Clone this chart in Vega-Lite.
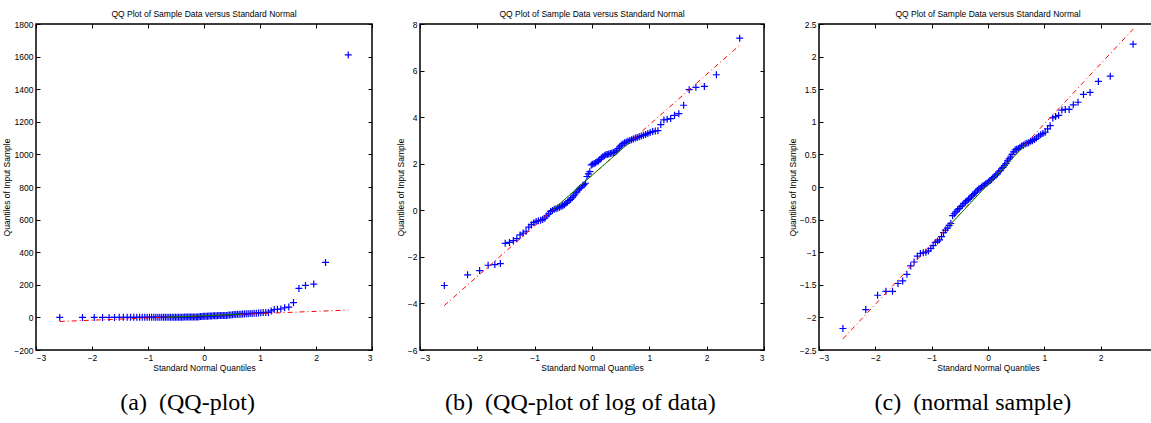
{
  "$schema": "https://vega.github.io/schema/vega-lite/v6.json",
  "padding": {"left": 2, "top": 8, "right": 0, "bottom": 0},
  "background": "white",
  "config": {
    "view": {"stroke": "black", "strokeWidth": 1.5},
    "axis": {"grid": false, "domain": false, "tickColor": "black", "tickSize": -4, "tickWidth": 1, "labelPadding": 7, "labelFont": "Liberation Sans Narrow, Liberation Sans", "labelFontSize": 8.5, "labelColor": "black", "titleFont": "Liberation Sans Narrow, Liberation Sans", "titleFontSize": 8.5, "titleFontWeight": "normal", "titleColor": "black", "titlePadding": 2},
    "title": {"font": "Liberation Sans Narrow, Liberation Sans", "fontSize": 8.5, "fontWeight": "normal", "color": "black"}
  },
  "datasets": {
    "a": [
      {"x":-2.576,"y":0.04},{"x":-2.170,"y":0.063},{"x":-1.960,"y":0.075},{"x":-1.812,"y":0.094},{"x":-1.695,"y":0.097},{"x":-1.598,"y":0.101},{"x":-1.514,"y":0.242},{"x":-1.440,"y":0.252},{"x":-1.372,"y":0.273},{"x":-1.311,"y":0.295},
      {"x":-1.254,"y":0.347},{"x":-1.200,"y":0.375},{"x":-1.150,"y":0.407},{"x":-1.103,"y":0.487},{"x":-1.058,"y":0.538},{"x":-1.015,"y":0.589},{"x":-0.974,"y":0.619},{"x":-0.935,"y":0.638},{"x":-0.896,"y":0.651},{"x":-0.860,"y":0.670},
      {"x":-0.824,"y":0.712},{"x":-0.789,"y":0.787},{"x":-0.755,"y":0.861},{"x":-0.722,"y":0.951},{"x":-0.690,"y":0.99},{"x":-0.659,"y":1.04},{"x":-0.628,"y":1.07},{"x":-0.598,"y":1.11},{"x":-0.568,"y":1.14},{"x":-0.539,"y":1.17},
      {"x":-0.510,"y":1.22},{"x":-0.482,"y":1.27},{"x":-0.454,"y":1.35},{"x":-0.426,"y":1.43},{"x":-0.399,"y":1.52},{"x":-0.372,"y":1.60},{"x":-0.345,"y":1.72},{"x":-0.319,"y":1.86},{"x":-0.292,"y":2.01},{"x":-0.266,"y":2.18},
      {"x":-0.240,"y":2.41},{"x":-0.215,"y":2.56},{"x":-0.189,"y":2.69},{"x":-0.164,"y":2.86},{"x":-0.138,"y":3.00},{"x":-0.113,"y":3.19},{"x":-0.088,"y":4.26},{"x":-0.063,"y":4.76},{"x":-0.038,"y":5.26},{"x":-0.013,"y":7.03},
      {"x":0.013,"y":7.24},{"x":0.038,"y":7.46},{"x":0.063,"y":7.69},{"x":0.088,"y":8.00},{"x":0.113,"y":8.33},{"x":0.138,"y":8.85},{"x":0.164,"y":9.49},{"x":0.189,"y":9.97},{"x":0.215,"y":10.38},{"x":0.240,"y":10.80},
      {"x":0.266,"y":11.02},{"x":0.292,"y":11.25},{"x":0.319,"y":11.47},{"x":0.345,"y":11.70},{"x":0.372,"y":11.94},{"x":0.399,"y":12.18},{"x":0.426,"y":12.81},{"x":0.454,"y":14.15},{"x":0.482,"y":15.18},{"x":0.510,"y":16.44},
      {"x":0.539,"y":17.46},{"x":0.568,"y":18.17},{"x":0.598,"y":18.73},{"x":0.628,"y":19.49},{"x":0.659,"y":20.09},{"x":0.690,"y":20.70},{"x":0.722,"y":21.33},{"x":0.755,"y":22.20},{"x":0.789,"y":22.87},{"x":0.824,"y":23.57},
      {"x":0.860,"y":24.29},{"x":0.896,"y":25.03},{"x":0.935,"y":25.79},{"x":0.974,"y":27.11},{"x":1.015,"y":28.22},{"x":1.058,"y":29.37},{"x":1.103,"y":30.27},{"x":1.150,"y":30.57},{"x":1.200,"y":39.65},{"x":1.254,"y":48.42},
      {"x":1.311,"y":49.90},{"x":1.372,"y":51.42},{"x":1.440,"y":59.15},{"x":1.514,"y":63.43},{"x":1.598,"y":90.92},{"x":1.695,"y":177.7},{"x":1.812,"y":196.4},{"x":1.960,"y":204.4},{"x":2.170,"y":337.0},{"x":2.576,"y":1610}
    ],
    "b": [
      {"x":-2.576,"y":-3.23},{"x":-2.170,"y":-2.77},{"x":-1.960,"y":-2.59},{"x":-1.812,"y":-2.36},{"x":-1.695,"y":-2.33},{"x":-1.598,"y":-2.29},{"x":-1.514,"y":-1.42},{"x":-1.440,"y":-1.38},{"x":-1.372,"y":-1.30},{"x":-1.311,"y":-1.22},
      {"x":-1.254,"y":-1.06},{"x":-1.200,"y":-0.98},{"x":-1.150,"y":-0.90},{"x":-1.103,"y":-0.72},{"x":-1.058,"y":-0.62},{"x":-1.015,"y":-0.53},{"x":-0.974,"y":-0.48},{"x":-0.935,"y":-0.45},{"x":-0.896,"y":-0.43},{"x":-0.860,"y":-0.40},
      {"x":-0.824,"y":-0.34},{"x":-0.789,"y":-0.24},{"x":-0.755,"y":-0.15},{"x":-0.722,"y":-0.05},{"x":-0.690,"y":-0.01},{"x":-0.659,"y":0.04},{"x":-0.628,"y":0.07},{"x":-0.598,"y":0.10},{"x":-0.568,"y":0.13},{"x":-0.539,"y":0.16},
      {"x":-0.510,"y":0.20},{"x":-0.482,"y":0.24},{"x":-0.454,"y":0.30},{"x":-0.426,"y":0.36},{"x":-0.399,"y":0.42},{"x":-0.372,"y":0.47},{"x":-0.345,"y":0.54},{"x":-0.319,"y":0.62},{"x":-0.292,"y":0.70},{"x":-0.266,"y":0.78},
      {"x":-0.240,"y":0.88},{"x":-0.215,"y":0.94},{"x":-0.189,"y":0.99},{"x":-0.164,"y":1.05},{"x":-0.138,"y":1.10},{"x":-0.113,"y":1.16},{"x":-0.088,"y":1.45},{"x":-0.063,"y":1.56},{"x":-0.038,"y":1.66},{"x":-0.013,"y":1.95},
      {"x":0.013,"y":1.98},{"x":0.038,"y":2.01},{"x":0.063,"y":2.04},{"x":0.088,"y":2.08},{"x":0.113,"y":2.12},{"x":0.138,"y":2.18},{"x":0.164,"y":2.25},{"x":0.189,"y":2.30},{"x":0.215,"y":2.34},{"x":0.240,"y":2.38},
      {"x":0.266,"y":2.40},{"x":0.292,"y":2.42},{"x":0.319,"y":2.44},{"x":0.345,"y":2.46},{"x":0.372,"y":2.48},{"x":0.399,"y":2.50},{"x":0.426,"y":2.55},{"x":0.454,"y":2.65},{"x":0.482,"y":2.72},{"x":0.510,"y":2.80},
      {"x":0.539,"y":2.86},{"x":0.568,"y":2.90},{"x":0.598,"y":2.93},{"x":0.628,"y":2.97},{"x":0.659,"y":3.00},{"x":0.690,"y":3.03},{"x":0.722,"y":3.06},{"x":0.755,"y":3.10},{"x":0.789,"y":3.13},{"x":0.824,"y":3.16},
      {"x":0.860,"y":3.19},{"x":0.896,"y":3.22},{"x":0.935,"y":3.25},{"x":0.974,"y":3.30},{"x":1.015,"y":3.34},{"x":1.058,"y":3.38},{"x":1.103,"y":3.41},{"x":1.150,"y":3.42},{"x":1.200,"y":3.68},{"x":1.254,"y":3.88},
      {"x":1.311,"y":3.91},{"x":1.372,"y":3.94},{"x":1.440,"y":4.08},{"x":1.514,"y":4.15},{"x":1.598,"y":4.51},{"x":1.695,"y":5.18},{"x":1.812,"y":5.28},{"x":1.960,"y":5.32},{"x":2.170,"y":5.82},{"x":2.576,"y":7.39}
    ],
    "c": [
      {"x":-2.576,"y":-2.17},{"x":-2.170,"y":-1.88},{"x":-1.960,"y":-1.66},{"x":-1.812,"y":-1.60},{"x":-1.695,"y":-1.60},{"x":-1.598,"y":-1.48},{"x":-1.514,"y":-1.44},{"x":-1.440,"y":-1.34},{"x":-1.372,"y":-1.21},{"x":-1.311,"y":-1.15},
      {"x":-1.254,"y":-1.06},{"x":-1.200,"y":-1.02},{"x":-1.150,"y":-1.01},{"x":-1.103,"y":-1.00},{"x":-1.058,"y":-0.98},{"x":-1.015,"y":-0.94},{"x":-0.974,"y":-0.90},{"x":-0.935,"y":-0.85},{"x":-0.896,"y":-0.83},{"x":-0.860,"y":-0.81},
      {"x":-0.824,"y":-0.76},{"x":-0.789,"y":-0.70},{"x":-0.755,"y":-0.66},{"x":-0.722,"y":-0.63},{"x":-0.690,"y":-0.59},{"x":-0.659,"y":-0.56},{"x":-0.628,"y":-0.44},{"x":-0.598,"y":-0.41},{"x":-0.568,"y":-0.38},{"x":-0.539,"y":-0.35},
      {"x":-0.510,"y":-0.33},{"x":-0.482,"y":-0.30},{"x":-0.454,"y":-0.28},{"x":-0.426,"y":-0.25},{"x":-0.399,"y":-0.23},{"x":-0.372,"y":-0.21},{"x":-0.345,"y":-0.19},{"x":-0.319,"y":-0.17},{"x":-0.292,"y":-0.14},{"x":-0.266,"y":-0.12},
      {"x":-0.240,"y":-0.10},{"x":-0.215,"y":-0.08},{"x":-0.189,"y":-0.05},{"x":-0.164,"y":-0.03},{"x":-0.138,"y":-0.02},{"x":-0.113,"y":0.00},{"x":-0.088,"y":0.02},{"x":-0.063,"y":0.03},{"x":-0.038,"y":0.05},{"x":-0.013,"y":0.06},
      {"x":0.013,"y":0.08},{"x":0.038,"y":0.10},{"x":0.063,"y":0.12},{"x":0.088,"y":0.14},{"x":0.113,"y":0.16},{"x":0.138,"y":0.18},{"x":0.164,"y":0.20},{"x":0.189,"y":0.23},{"x":0.215,"y":0.25},{"x":0.240,"y":0.28},
      {"x":0.266,"y":0.30},{"x":0.292,"y":0.33},{"x":0.319,"y":0.36},{"x":0.345,"y":0.40},{"x":0.372,"y":0.43},{"x":0.399,"y":0.46},{"x":0.426,"y":0.50},{"x":0.454,"y":0.54},{"x":0.482,"y":0.57},{"x":0.510,"y":0.58},
      {"x":0.539,"y":0.59},{"x":0.568,"y":0.61},{"x":0.598,"y":0.63},{"x":0.628,"y":0.64},{"x":0.659,"y":0.66},{"x":0.690,"y":0.67},{"x":0.722,"y":0.68},{"x":0.755,"y":0.70},{"x":0.789,"y":0.71},{"x":0.824,"y":0.73},
      {"x":0.860,"y":0.75},{"x":0.896,"y":0.78},{"x":0.935,"y":0.80},{"x":0.974,"y":0.82},{"x":1.015,"y":0.84},{"x":1.058,"y":0.89},{"x":1.103,"y":0.94},{"x":1.150,"y":1.06},{"x":1.200,"y":1.08},{"x":1.254,"y":1.10},
      {"x":1.311,"y":1.18},{"x":1.372,"y":1.19},{"x":1.440,"y":1.19},{"x":1.514,"y":1.26},{"x":1.598,"y":1.30},{"x":1.695,"y":1.42},{"x":1.812,"y":1.45},{"x":1.960,"y":1.62},{"x":2.170,"y":1.70},{"x":2.576,"y":2.19}
    ],
    "fitA": [{"x":-2.576,"y":-25},{"x":2.576,"y":45}],
    "iqrA": [{"x":-0.674,"y":1},{"x":0.674,"y":20}],
    "fitB": [{"x":-2.576,"y":-4.09},{"x":2.576,"y":7.09}],
    "iqrB": [{"x":-0.674,"y":0.04},{"x":0.674,"y":2.96}],
    "fitC": [{"x":-2.576,"y":-2.33},{"x":2.576,"y":2.42}],
    "iqrC": [{"x":-0.674,"y":-0.58},{"x":0.674,"y":0.66}]
  },
  "hconcat": [
    {
      "title": {"text": "(a)\u00a0\u00a0(QQ-plot)", "orient": "bottom", "anchor": "middle", "font": "Liberation Serif", "fontSize": 24, "offset": 18},
      "vconcat": [{
        "title": {"text": "QQ Plot of Sample Data versus Standard Normal", "frame": "group", "anchor": "middle", "offset": 2},
        "width": 336, "height": 326,
        "resolve": {"axis": {"x": "independent", "y": "independent"}},
        "layer": [
          {"data": {"name": "a"}, "mark": {"type": "point", "shape": "M-1,0L1,0M0,-1L0,1", "size": 49, "filled": false, "color": "#0000ff", "strokeWidth": 1.2, "opacity": 1},
           "encoding": {
             "x": {"field": "x", "type": "quantitative", "scale": {"domain": [-3, 3], "nice": false}, "axis": {"values": [-3,-2,-1,0,1,2,3], "title": "Standard Normal Quantiles", "orient": "bottom"}},
             "y": {"field": "y", "type": "quantitative", "scale": {"domain": [-200, 1800], "nice": false}, "axis": {"values": [-200,0,200,400,600,800,1000,1200,1400,1600,1800], "format": "d", "title": "Quantiles of Input Sample", "orient": "left"}}
           }},
          {"data": {"name": "fitA"}, "mark": {"type": "line", "color": "#ff0000", "strokeWidth": 1, "strokeDash": [5,3,1,3]},
           "encoding": {
             "x": {"field": "x", "type": "quantitative", "axis": {"orient": "top", "values": [-3,-2,-1,0,1,2,3], "labels": false, "title": null}},
             "y": {"field": "y", "type": "quantitative", "axis": {"orient": "right", "values": [-200,0,200,400,600,800,1000,1200,1400,1600,1800], "labels": false, "title": null}}
           }},
          {"data": {"name": "iqrA"}, "mark": {"type": "line", "color": "#008000", "strokeWidth": 1},
           "encoding": {
             "x": {"field": "x", "type": "quantitative", "axis": null},
             "y": {"field": "y", "type": "quantitative", "axis": null}
           }}
        ]
      }]
    },
    {
      "title": {"text": "(b)\u00a0\u00a0(QQ-plot of log of data)", "orient": "bottom", "anchor": "middle", "font": "Liberation Serif", "fontSize": 24, "offset": 18},
      "vconcat": [{
        "title": {"text": "QQ Plot of Sample Data versus Standard Normal", "frame": "group", "anchor": "middle", "offset": 2},
        "width": 344, "height": 326,
        "resolve": {"axis": {"x": "independent", "y": "independent"}},
        "layer": [
          {"data": {"name": "b"}, "mark": {"type": "point", "shape": "M-1,0L1,0M0,-1L0,1", "size": 49, "filled": false, "color": "#0000ff", "strokeWidth": 1.2, "opacity": 1},
           "encoding": {
             "x": {"field": "x", "type": "quantitative", "scale": {"domain": [-3, 3], "nice": false}, "axis": {"values": [-3,-2,-1,0,1,2,3], "title": "Standard Normal Quantiles", "orient": "bottom"}},
             "y": {"field": "y", "type": "quantitative", "scale": {"domain": [-6, 8], "nice": false}, "axis": {"values": [-6,-4,-2,0,2,4,6,8], "title": "Quantiles of Input Sample", "orient": "left"}}
           }},
          {"data": {"name": "fitB"}, "mark": {"type": "line", "color": "#ff0000", "strokeWidth": 1, "strokeDash": [5,3,1,3]},
           "encoding": {
             "x": {"field": "x", "type": "quantitative", "axis": {"orient": "top", "values": [-3,-2,-1,0,1,2,3], "labels": false, "title": null}},
             "y": {"field": "y", "type": "quantitative", "axis": {"orient": "right", "values": [-6,-4,-2,0,2,4,6,8], "labels": false, "title": null}}
           }},
          {"data": {"name": "iqrB"}, "mark": {"type": "line", "color": "#008000", "strokeWidth": 1},
           "encoding": {
             "x": {"field": "x", "type": "quantitative", "axis": null},
             "y": {"field": "y", "type": "quantitative", "axis": null}
           }}
        ]
      }]
    },
    {
      "title": {"text": "(c)\u00a0\u00a0(normal sample)", "orient": "bottom", "anchor": "middle", "font": "Liberation Serif", "fontSize": 24, "offset": 18},
      "vconcat": [{
        "title": {"text": "QQ Plot of Sample Data versus Standard Normal", "frame": "group", "anchor": "middle", "offset": 2},
        "width": 338, "height": 326,
        "resolve": {"axis": {"x": "independent", "y": "independent"}},
        "layer": [
          {"data": {"name": "c"}, "mark": {"type": "point", "shape": "M-1,0L1,0M0,-1L0,1", "size": 49, "filled": false, "color": "#0000ff", "strokeWidth": 1.2, "opacity": 1},
           "encoding": {
             "x": {"field": "x", "type": "quantitative", "scale": {"domain": [-3, 3], "nice": false}, "axis": {"values": [-3,-2,-1,0,1,2], "title": "Standard Normal Quantiles", "orient": "bottom"}},
             "y": {"field": "y", "type": "quantitative", "scale": {"domain": [-2.5, 2.5], "nice": false}, "axis": {"values": [-2.5,-2,-1.5,-1,-0.5,0,0.5,1,1.5,2,2.5], "format": ".1~f", "title": "Quantiles of Input Sample", "orient": "left"}}
           }},
          {"data": {"name": "fitC"}, "mark": {"type": "line", "color": "#ff0000", "strokeWidth": 1, "strokeDash": [5,3,1,3]},
           "encoding": {
             "x": {"field": "x", "type": "quantitative", "axis": {"orient": "top", "values": [-3,-2,-1,0,1,2], "labels": false, "title": null}},
             "y": {"field": "y", "type": "quantitative", "axis": {"orient": "right", "values": [-2.5,-2,-1.5,-1,-0.5,0,0.5,1,1.5,2,2.5], "labels": false, "title": null}}
           }},
          {"data": {"name": "iqrC"}, "mark": {"type": "line", "color": "#008000", "strokeWidth": 1},
           "encoding": {
             "x": {"field": "x", "type": "quantitative", "axis": null},
             "y": {"field": "y", "type": "quantitative", "axis": null}
           }}
        ]
      }]
    }
  ],
  "spacing": 21
}
